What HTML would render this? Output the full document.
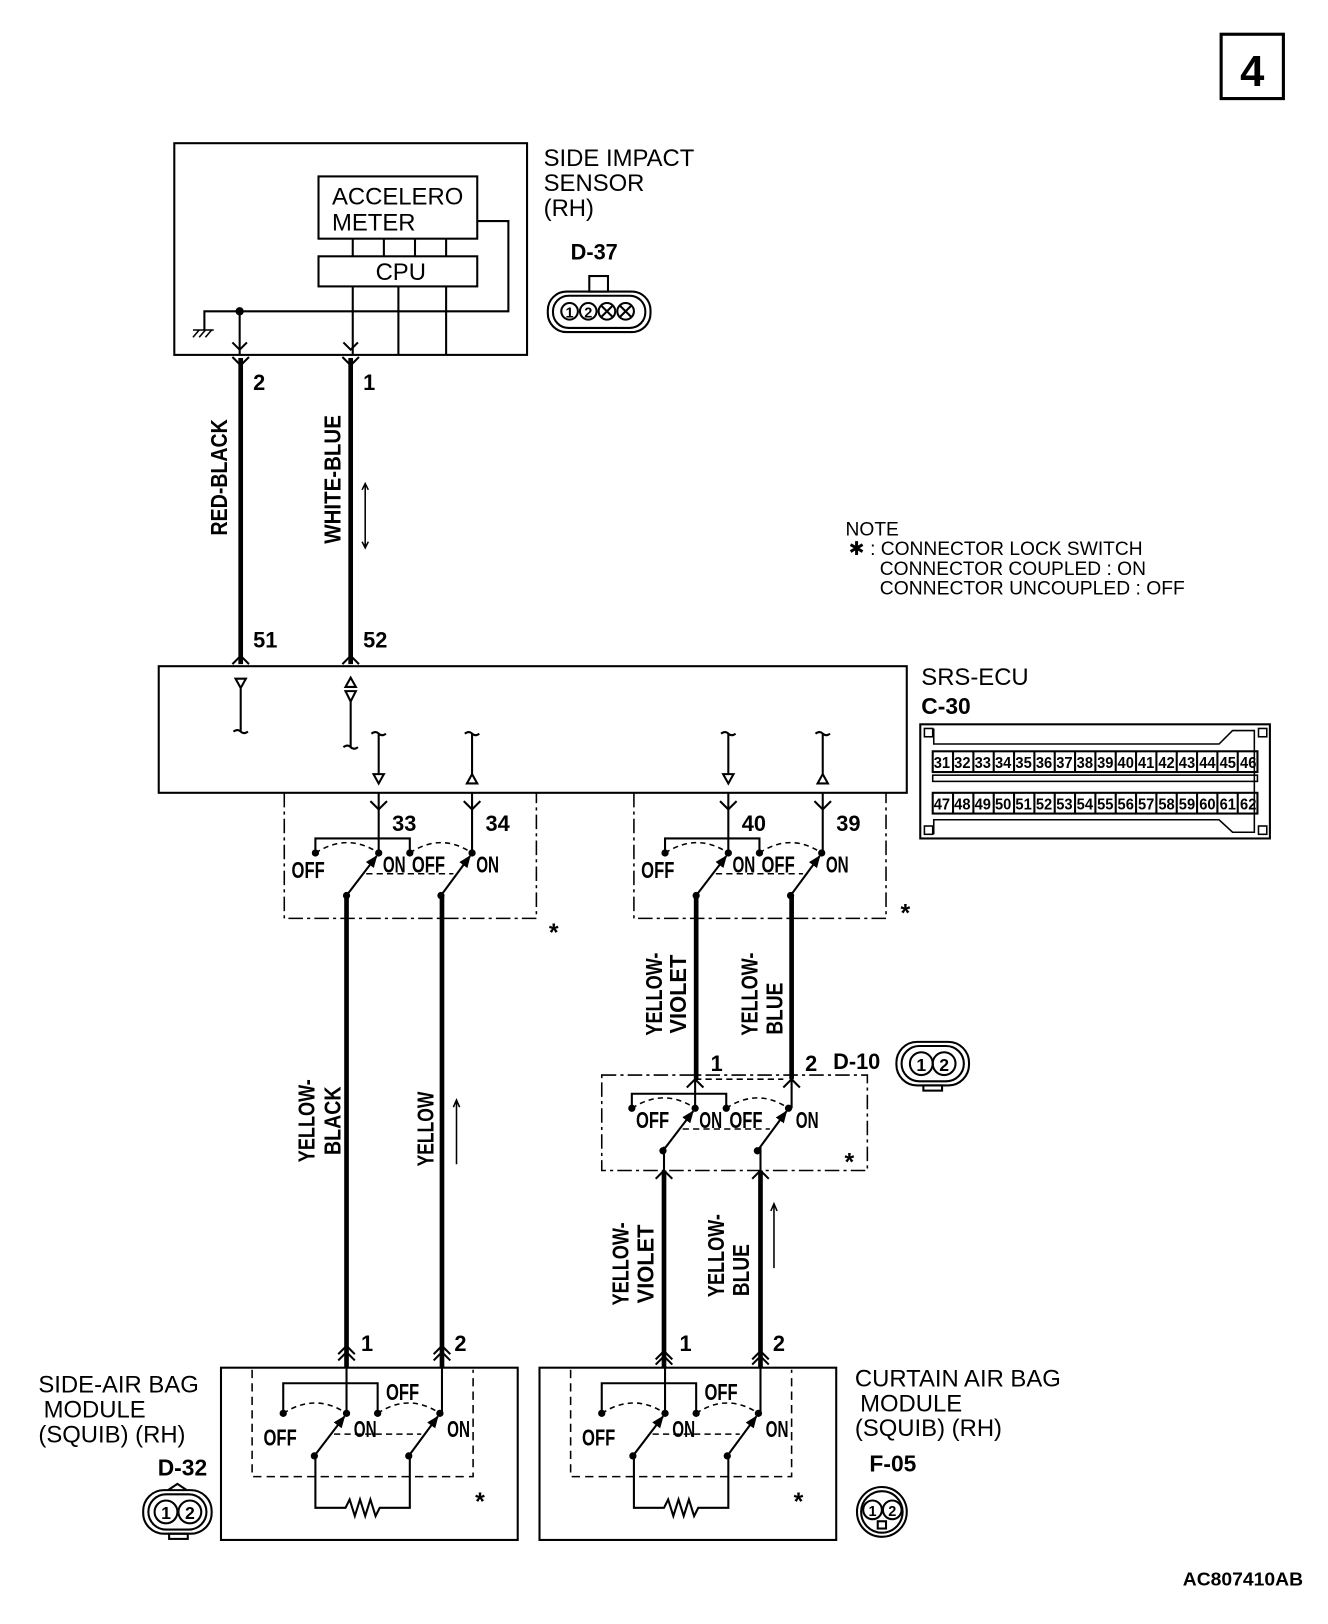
<!DOCTYPE html>
<html><head><meta charset="utf-8"><style>
html,body{margin:0;padding:0;background:#fff;}
svg{display:block;}
text{font-family:"Liberation Sans",sans-serif;fill:#000;}
.b{font-weight:bold;}
.n{font-size:21px;}
.s{font-size:18.5px;}
</style></head><body>
<svg width="1328" height="1624" viewBox="0 0 1280 1565" preserveAspectRatio="none" xmlns="http://www.w3.org/2000/svg">
<defs>
<marker id="ah" viewBox="0 0 10 10" refX="9" refY="5" markerWidth="6" markerHeight="6" orient="auto"><path d="M0,1 L10,5 L0,9 z" fill="#000"/></marker>
<g id="sw" fill="none" stroke="#000">
  <path d="M-61,0 Q-30,-20 0,0 M30,0 Q60,-20 90,0" stroke-dasharray="5,4" stroke-width="1.5"/>
  <line x1="-12" y1="20" x2="72" y2="20" stroke-dasharray="6,4" stroke-width="1.5"/>
  <line x1="-31" y1="41" x2="-2" y2="3" stroke-width="2" marker-end="url(#ah)"/>
  <line x1="60" y1="41" x2="88" y2="3" stroke-width="2" marker-end="url(#ah)"/>
  <g fill="#000" stroke="none"><circle cx="-61" cy="0" r="3.5"/><circle cx="0" cy="0" r="3.5"/><circle cx="30" cy="0" r="3.5"/><circle cx="90" cy="0" r="3.5"/><circle cx="-31" cy="41" r="3.5"/><circle cx="60" cy="41" r="3.5"/></g>
</g>
</defs>

<rect x="1177" y="33" width="60" height="62" fill="none" stroke="#000" stroke-width="3"/>
<text x="1207" y="83" font-size="42" class="b" text-anchor="middle">4</text>

<g fill="none" stroke="#000" stroke-width="2">
<rect x="168" y="138" width="340" height="204"/>
<rect x="307" y="170" width="153" height="60"/>
<rect x="307" y="247" width="153" height="29"/>
<path d="M340,230V247M370,230V247M400,230V247M430,230V247"/>
<path d="M340,276V342M384,276V342M430,276V342"/>
<path d="M460,213H490V300H197V318M231,300V342"/>
<path d="M186,325 l6,-7 M192,325 l6,-7 M198,325 l6,-7 M186,318H206" stroke-width="1.5"/>
<path d="M224,330 l7,7 l7,-7 M331,330 l7,7 l7,-7"/>
</g>
<circle cx="231" cy="300" r="4"/>
<text x="320" y="197" font-size="23">ACCELERO</text>
<text x="320" y="222" font-size="23">METER</text>
<text x="362" y="270" font-size="23">CPU</text>
<text x="524" y="160" font-size="23">SIDE IMPACT</text>
<text x="524" y="184" font-size="23">SENSOR</text>
<text x="524" y="208" font-size="23">(RH)</text>
<text x="550" y="250" font-size="21" class="b">D-37</text>
<g fill="none" stroke="#000" stroke-width="2">
<rect x="568" y="266" width="18" height="15"/>
<rect x="528" y="281" width="99" height="39" rx="18"/>
<rect x="533" y="285" width="89" height="31" rx="15"/>
<circle cx="549" cy="300" r="8"/><circle cx="567" cy="300" r="8"/><circle cx="585" cy="300" r="8"/><circle cx="603" cy="300" r="8"/>
<path d="M579,294l12,12M591,294l-12,12M597,294l12,12M609,294l-12,12"/>
</g>
<text x="549" y="306" font-size="14" class="b" text-anchor="middle">1</text>
<text x="567" y="306" font-size="14" class="b" text-anchor="middle">2</text>

<g stroke="#000" fill="none">
<line x1="232" y1="345" x2="232" y2="640" stroke-width="4.5"/>
<line x1="338" y1="345" x2="338" y2="640" stroke-width="4.5"/>
<path d="M224,344l8,8l8,-8M330,344l8,8l8,-8M224,640l8,-8l8,8M330,640l8,-8l8,8" stroke-width="2"/>
<path d="M352,466V528M349,472l3,-6l3,6M349,522l3,6l3,-6" stroke-width="1.5"/>
</g>
<text x="244" y="376" class="b n">2</text><text x="350" y="376" class="b n">1</text>
<text x="244" y="624" class="b n">51</text><text x="350" y="624" class="b n">52</text>
<text transform="translate(219,460) rotate(-90)" class="b" font-size="22" text-anchor="middle" textLength="112" lengthAdjust="spacingAndGlyphs">RED-BLACK</text>
<text transform="translate(328,462) rotate(-90)" class="b" font-size="22" text-anchor="middle" textLength="124" lengthAdjust="spacingAndGlyphs">WHITE-BLUE</text>

<text x="815" y="516" class="s">NOTE</text>
<text x="818" y="535" class="s">✱ : CONNECTOR LOCK SWITCH</text>
<text x="848" y="554" class="s">CONNECTOR COUPLED : ON</text>
<text x="848" y="573" class="s" textLength="294" lengthAdjust="spacingAndGlyphs">CONNECTOR UNCOUPLED : OFF</text>

<g fill="none" stroke="#000" stroke-width="2">
<rect x="153" y="642" width="721" height="122"/>
<path d="M227,654h10l-5,9z M232,663V705 M225,705q4,-3 7,0t7,0"/>
<path d="M333,662h10l-5,-9z M333,666h10l-5,10z M338,676V720 M331,720q4,-3 7,0t7,0"/>
<path d="M365,707V746 M358,707q4,-3 7,0t7,0 M360,746h10l-5,9z"/>
<path d="M455,707V746 M448,707q4,-3 7,0t7,0 M450,755h10l-5,-9z"/>
<path d="M702,707V746 M695,707q4,-3 7,0t7,0 M697,746h10l-5,9z"/>
<path d="M793,707V746 M786,707q4,-3 7,0t7,0 M788,755h10l-5,-9z"/>
</g>
<text x="888" y="660" font-size="23">SRS-ECU</text>
<text x="888" y="688" font-size="22" class="b">C-30</text>
<g fill="none" stroke="#000" stroke-width="2">
<rect x="887" y="698" width="337" height="110"/>
<path d="M900,702V717H1175L1188,704H1209V802H1188L1175,790H900V804" stroke-width="1.5"/>
<rect x="891" y="702" width="8" height="8" stroke-width="1.5"/><rect x="1213" y="702" width="8" height="8" stroke-width="1.5"/>
<rect x="891" y="796" width="8" height="8" stroke-width="1.5"/><rect x="1213" y="796" width="8" height="8" stroke-width="1.5"/>
<rect x="899" y="724" width="313" height="20"/>
<rect x="899" y="747" width="313" height="6" stroke-width="1.5"/>
<rect x="899" y="764" width="313" height="20"/>
<path d="M918.6,724v20M938.2,724v20M957.8,724v20M977.4,724v20M997,724v20M1016.6,724v20M1036.2,724v20M1055.8,724v20M1075.4,724v20M1095,724v20M1114.6,724v20M1134.2,724v20M1153.8,724v20M1173.4,724v20M1193,724v20"/>
<path d="M918.6,764v20M938.2,764v20M957.8,764v20M977.4,764v20M997,764v20M1016.6,764v20M1036.2,764v20M1055.8,764v20M1075.4,764v20M1095,764v20M1114.6,764v20M1134.2,764v20M1153.8,764v20M1173.4,764v20M1193,764v20"/>
</g>
<text x="900" y="740" font-size="15" class="b" textLength="311" lengthAdjust="spacingAndGlyphs">31 32 33 34 35 36 37 38 39 40 41 42 43 44 45 46</text>
<text x="900" y="780" font-size="15" class="b" textLength="311" lengthAdjust="spacingAndGlyphs">47 48 49 50 51 52 53 54 55 56 57 58 59 60 61 62</text>

<g fill="none" stroke="#000" stroke-width="1.5" stroke-dasharray="14,4,3,4">
<path d="M274,764V885H517V764"/>
<path d="M611,764V885H854V764"/>
<rect x="580" y="1036" width="256" height="92"/>
</g>
<g fill="none" stroke="#000" stroke-width="2">
<path d="M365,764V822M455,764V822M304,822V808H395V822"/>
<path d="M357,772l8,8l8,-8M447,772l8,8l8,-8"/>
<path d="M702,764V822M793,764V822M641,822V808H732V822"/>
<path d="M694,772l8,8l8,-8M785,772l8,8l8,-8"/>
<path d="M670,1040V1068M763,1040V1068M609,1068V1054H700V1068"/>
<path d="M662,1048l8,-8l8,8M755,1048l8,-8l8,8"/>
<path d="M670,1040l8,0H755" stroke-dasharray="6,4" stroke-width="1.5"/>
</g>
<use href="#sw" x="365" y="822"/>
<use href="#sw" x="702" y="822"/>
<use href="#sw" x="670" y="1068"/>
<g class="b" font-size="22">
<text x="281" y="846" textLength="32" lengthAdjust="spacingAndGlyphs">OFF</text>
<text x="369" y="841" textLength="22" lengthAdjust="spacingAndGlyphs">ON</text>
<text x="397" y="841" textLength="32" lengthAdjust="spacingAndGlyphs">OFF</text>
<text x="459" y="841" textLength="22" lengthAdjust="spacingAndGlyphs">ON</text>
<text x="618" y="846" textLength="32" lengthAdjust="spacingAndGlyphs">OFF</text>
<text x="706" y="841" textLength="22" lengthAdjust="spacingAndGlyphs">ON</text>
<text x="734" y="841" textLength="32" lengthAdjust="spacingAndGlyphs">OFF</text>
<text x="796" y="841" textLength="22" lengthAdjust="spacingAndGlyphs">ON</text>
<text x="613" y="1087" textLength="32" lengthAdjust="spacingAndGlyphs">OFF</text>
<text x="674" y="1087" textLength="22" lengthAdjust="spacingAndGlyphs">ON</text>
<text x="703" y="1087" textLength="32" lengthAdjust="spacingAndGlyphs">OFF</text>
<text x="767" y="1087" textLength="22" lengthAdjust="spacingAndGlyphs">ON</text>
</g>
<text x="378" y="801" class="b n">33</text><text x="468" y="801" class="b n">34</text>
<text x="715" y="801" class="b n">40</text><text x="806" y="801" class="b n">39</text>
<text x="529" y="907" font-size="24" class="b">*</text>
<text x="868" y="888" font-size="24" class="b">*</text>
<text x="814" y="1128" font-size="24" class="b">*</text>

<g stroke="#000" stroke-width="4.5">
<line x1="334" y1="863" x2="334" y2="1318"/>
<line x1="426" y1="863" x2="426" y2="1318"/>
<line x1="671" y1="863" x2="671" y2="1040"/>
<line x1="763" y1="863" x2="763" y2="1040"/>
<line x1="640" y1="1128" x2="640" y2="1318"/>
<line x1="733" y1="1128" x2="733" y2="1318"/>
<line x1="640" y1="1105" x2="640" y2="1128" stroke-width="2"/>
<line x1="733" y1="1105" x2="733" y2="1128" stroke-width="2"/>
</g>
<g fill="none" stroke="#000" stroke-width="2">
<path d="M632,1136l8,-8l8,8M725,1136l8,-8l8,8M632,1310l8,-8l8,8M725,1310l8,-8l8,8"/>
<path d="M326,1305l8,-8l8,8M326,1311l8,-8l8,8M418,1305l8,-8l8,8M418,1311l8,-8l8,8"/>
<path d="M632,1315l8,-8l8,8M725,1315l8,-8l8,8"/>
<path d="M440,1060V1122M437,1067l3,-7l3,7" stroke-width="1.5"/>
<path d="M746,1160V1222M743,1167l3,-7l3,7" stroke-width="1.5"/>
</g>
<text x="685" y="1032" class="b n">1</text><text x="776" y="1032" class="b n">2</text>
<text x="803" y="1030" class="b n">D-10</text>
<g fill="none" stroke="#000" stroke-width="2">
<rect x="864" y="1004" width="70" height="42" rx="20"/>
<rect x="869" y="1008" width="60" height="34" rx="17"/>
<circle cx="888" cy="1025" r="11"/><circle cx="910" cy="1025" r="11"/>
<rect x="890" y="1046" width="18" height="5"/>
</g>
<text x="888" y="1032" font-size="17" class="b" text-anchor="middle">1</text>
<text x="910" y="1032" font-size="17" class="b" text-anchor="middle">2</text>

<g class="b" font-size="22">
<text transform="translate(303,1080) rotate(-90)" text-anchor="middle" textLength="80" lengthAdjust="spacingAndGlyphs">YELLOW-</text>
<text transform="translate(328,1080) rotate(-90)" text-anchor="middle" textLength="66" lengthAdjust="spacingAndGlyphs">BLACK</text>
<text transform="translate(418,1088) rotate(-90)" text-anchor="middle" textLength="72" lengthAdjust="spacingAndGlyphs">YELLOW</text>
<text transform="translate(638,958) rotate(-90)" text-anchor="middle" textLength="80" lengthAdjust="spacingAndGlyphs">YELLOW-</text>
<text transform="translate(661,958) rotate(-90)" text-anchor="middle" textLength="76" lengthAdjust="spacingAndGlyphs">VIOLET</text>
<text transform="translate(730,958) rotate(-90)" text-anchor="middle" textLength="80" lengthAdjust="spacingAndGlyphs">YELLOW-</text>
<text transform="translate(754,972) rotate(-90)" text-anchor="middle" textLength="50" lengthAdjust="spacingAndGlyphs">BLUE</text>
<text transform="translate(606,1218) rotate(-90)" text-anchor="middle" textLength="80" lengthAdjust="spacingAndGlyphs">YELLOW-</text>
<text transform="translate(630,1218) rotate(-90)" text-anchor="middle" textLength="76" lengthAdjust="spacingAndGlyphs">VIOLET</text>
<text transform="translate(698,1210) rotate(-90)" text-anchor="middle" textLength="80" lengthAdjust="spacingAndGlyphs">YELLOW-</text>
<text transform="translate(722,1224) rotate(-90)" text-anchor="middle" textLength="50" lengthAdjust="spacingAndGlyphs">BLUE</text>
</g>

<g fill="none" stroke="#000" stroke-width="2">
<rect x="213" y="1318" width="286" height="166"/>
<rect x="520" y="1318" width="286" height="166"/>
<path d="M243,1320V1423H456V1320" stroke-dasharray="8,5" stroke-width="1.5"/>
<path d="M550,1320V1423H763V1320" stroke-dasharray="8,5" stroke-width="1.5"/>
<path d="M334,1318V1362M426,1318V1362M273,1362V1333H364V1362"/>
<path d="M641,1318V1362M733,1318V1362M580,1362V1333H671V1362"/>
<path d="M304,1403V1453H333l4,-8l5,16l5,-16l5,16l5,-16l5,16l4,-8H395V1403"/>
<path d="M611,1403V1453H640l4,-8l5,16l5,-16l5,16l5,-16l5,16l4,-8H702V1403"/>
</g>
<use href="#sw" x="334" y="1362"/>
<use href="#sw" x="641" y="1362"/>
<text x="348" y="1302" class="b n">1</text><text x="438" y="1302" class="b n">2</text>
<text x="655" y="1302" class="b n">1</text><text x="745" y="1302" class="b n">2</text>
<g class="b" font-size="22">
<text x="372" y="1349" textLength="32" lengthAdjust="spacingAndGlyphs">OFF</text>
<text x="254" y="1393" textLength="32" lengthAdjust="spacingAndGlyphs">OFF</text>
<text x="341" y="1385" textLength="22" lengthAdjust="spacingAndGlyphs">ON</text>
<text x="431" y="1385" textLength="22" lengthAdjust="spacingAndGlyphs">ON</text>
<text x="679" y="1349" textLength="32" lengthAdjust="spacingAndGlyphs">OFF</text>
<text x="561" y="1393" textLength="32" lengthAdjust="spacingAndGlyphs">OFF</text>
<text x="648" y="1385" textLength="22" lengthAdjust="spacingAndGlyphs">ON</text>
<text x="738" y="1385" textLength="22" lengthAdjust="spacingAndGlyphs">ON</text>
</g>
<text x="458" y="1455" font-size="24" class="b">*</text>
<text x="765" y="1455" font-size="24" class="b">*</text>

<text x="37" y="1342" font-size="23">SIDE-AIR BAG</text>
<text x="42" y="1366" font-size="23">MODULE</text>
<text x="37" y="1390" font-size="23">(SQUIB) (RH)</text>
<text x="152" y="1422" font-size="22" class="b">D-32</text>
<g fill="none" stroke="#000" stroke-width="2">
<rect x="138" y="1436" width="66" height="42" rx="20"/>
<rect x="143" y="1440" width="56" height="34" rx="17"/>
<circle cx="160" cy="1457" r="11"/><circle cx="183" cy="1457" r="11"/>
<rect x="163" y="1478" width="18" height="5"/>
<path d="M162,1436l9,-6l9,6"/>
</g>
<text x="160" y="1464" font-size="17" class="b" text-anchor="middle">1</text>
<text x="183" y="1464" font-size="17" class="b" text-anchor="middle">2</text>

<text x="824" y="1336" font-size="23">CURTAIN AIR BAG</text>
<text x="829" y="1360" font-size="23">MODULE</text>
<text x="824" y="1384" font-size="23">(SQUIB) (RH)</text>
<text x="838" y="1418" font-size="22" class="b">F-05</text>
<g fill="none" stroke="#000" stroke-width="2">
<circle cx="850" cy="1457" r="24"/>
<circle cx="850" cy="1457" r="20"/>
<circle cx="841" cy="1455" r="9"/><circle cx="860" cy="1455" r="9"/>
<rect x="846" y="1466" width="8" height="7"/>
</g>
<text x="841" y="1461" font-size="14" class="b" text-anchor="middle">1</text>
<text x="860" y="1461" font-size="14" class="b" text-anchor="middle">2</text>

<text x="1140" y="1528" font-size="18" class="b" textLength="116" lengthAdjust="spacingAndGlyphs">AC807410AB</text>
</svg>
</body></html>
